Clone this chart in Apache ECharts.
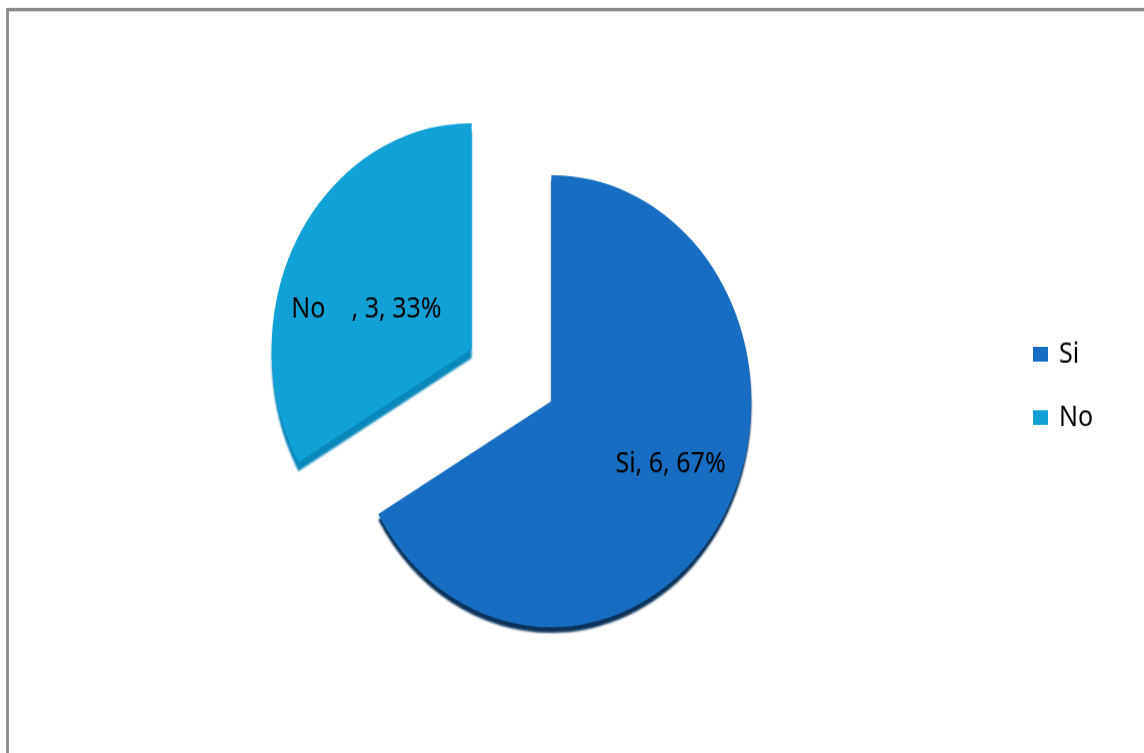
<!DOCTYPE html>
<html>
<head>
<meta charset="utf-8">
<script src="https://cdn.jsdelivr.net/npm/echarts@6/dist/echarts.min.js"></script>
<style>
  html, body { margin: 0; padding: 0; background: #ffffff; }
  html { overflow: hidden; }
  body { height: 753px; }
  /* The chart is laid out in a shorter box and stretched to the page height */
  #chart {
    width: 1144px;
    height: 667px;
    transform: scaleY(1.13);
    transform-origin: 0 0;
  }
</style>
</head>
<body>
<div id="chart"></div>
<script>
// Survey answers
const categories = ['Si', 'No'];
const labelNames = ['Si', 'No    '];
const values = [6, 3];
const colors = ['#176dc1', '#11a1d7'];
const shadowColors = ['#0a3259', '#0a88bb'];

const fontFamily = '"Noto Sans", "Open Sans", sans-serif';
const total = values.reduce((a, b) => a + b, 0);

// Nudge each inside label towards where it sits in the slice
const labelShift = [[30, 4], [-16, 16]];

const data = categories.map((name, i) => ({
  name: name,
  value: values[i],
  selected: true,
  itemStyle: {
    color: colors[i],
    shadowColor: shadowColors[i],
    shadowBlur: 2,
    shadowOffsetY: i === 0 ? 5 : 8
  },
  label: {
    formatter: () => labelNames[i] + ', ' + values[i] + ', ' + Math.round(values[i] / total * 100) + '%'
  }
}));

const chart = echarts.init(document.getElementById('chart'), null, { renderer: 'canvas' });
chart.setOption({
  animation: false,
  graphic: [{
    type: 'rect',
    shape: { x: 7.5, y: 8.5, width: 1300, height: 900 },
    style: { fill: 'none', stroke: '#8a8a8a', lineWidth: 2.8 },
    silent: true,
    z: -1
  }],
  legend: {
    orient: 'vertical',
    left: 1033,
    top: 300.5,
    padding: 0,
    itemWidth: 15,
    itemHeight: 13,
    itemGap: 30,
    icon: 'rect',
    selectedMode: false,
    data: categories,
    textStyle: {
      fontFamily: fontFamily,
      fontSize: 25,
      lineHeight: 26,
      color: '#000000',
      padding: [0, 0, 0, 6]
    }
  },
  series: [{
    type: 'pie',
    center: [511.5, 332],
    radius: 200,
    startAngle: 90,
    clockwise: true,
    selectedMode: 'multiple',
    selectedOffset: 46,
    emphasis: { disabled: true },
    labelLine: { show: false },
    label: {
      show: true,
      position: 'inside',
      color: '#000000',
      fontFamily: fontFamily,
      fontSize: 25
    },
    labelLayout: (params) => ({
      dx: labelShift[params.dataIndex][0],
      dy: labelShift[params.dataIndex][1]
    }),
    data: data
  }]
});
</script>
</body>
</html>
